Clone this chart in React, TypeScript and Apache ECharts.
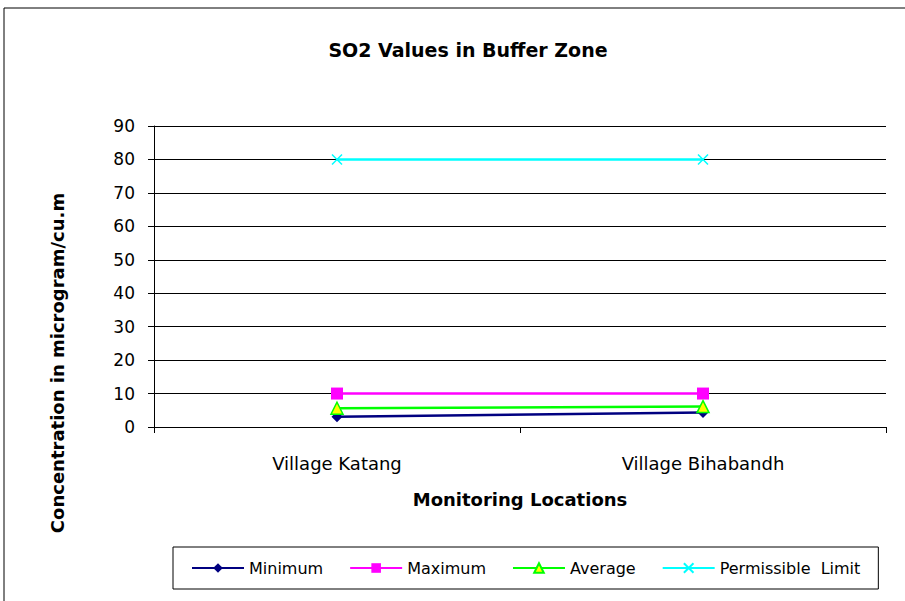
import React, { useEffect, useRef } from "react";
import * as echarts from "echarts";

const categories = ["Village Katang", "Village Bihabandh"];
const minimum = [3.1, 4.3];
const maximum = [10, 10];
const average = [5.6, 6.1];
const permissible = [80, 80];
const yTicks = { min: 0, max: 90, interval: 10 };

const FONT = "DejaVu Sans";

export default function App() {
  const ref = useRef<HTMLDivElement>(null);
  useEffect(() => {
    if (!ref.current) return;
    const chart = echarts.init(ref.current, undefined, { renderer: "svg" });
    chart.setOption({
      animation: false,
      backgroundColor: "#fff",
      title: {
        text: "SO2 Values in Buffer Zone",
        left: 463,
        textAlign: "center",
        top: 35,
        textStyle: { fontFamily: FONT, fontSize: 19, fontWeight: "bold", color: "#000" },
      },
      graphic: [
        {
          type: "rect",
          shape: { x: 4, y: 8, width: 920, height: 620 },
          style: { fill: "none", stroke: "#000", lineWidth: 1 },
          z: -1,
        },
        {
          type: "text",
          x: 57,
          y: 363,
          rotation: Math.PI / 2,
          style: {
            text: "Concentration in microgram/cu.m",
            align: "center",
            verticalAlign: "middle",
            font: `bold 18px "${FONT}"`,
            fill: "#000",
          },
        },
      ],
      grid: { left: 154, right: 19, top: 126, bottom: 174, containLabel: false },
      legend: {
        left: 173,
        top: 547,
        width: 707,
        padding: [13, 18, 13, 18],
        borderColor: "#000",
        borderWidth: 1,
        itemWidth: 52,
        itemHeight: 12,
        itemGap: 26,
        textStyle: { fontFamily: FONT, fontSize: 16, color: "#000" },
        data: ["Minimum", "Maximum", "Average", "Permissible  Limit"],
      },
      xAxis: {
        type: "category",
        data: categories,
        boundaryGap: true,
        name: "Monitoring Locations",
        nameLocation: "middle",
        nameGap: 63,
        nameTextStyle: { fontFamily: FONT, fontSize: 18, fontWeight: "bold", color: "#000" },
        axisLine: { lineStyle: { color: "#000", width: 1 } },
        axisTick: { show: true, length: 6, lineStyle: { color: "#000" } },
        axisLabel: { fontFamily: FONT, fontSize: 18, color: "#000", margin: 27 },
        splitLine: { show: false },
      },
      yAxis: {
        type: "value",
        min: yTicks.min,
        max: yTicks.max,
        interval: yTicks.interval,
        axisLine: { show: true, lineStyle: { color: "#000", width: 1 } },
        axisTick: { show: true, length: 6, lineStyle: { color: "#000" } },
        axisLabel: { fontFamily: FONT, fontSize: 17, color: "#000", margin: 19 },
        splitLine: { show: true, lineStyle: { color: "#000", width: 1 } },
      },
      series: [
        {
          name: "Minimum",
          type: "line",
          data: minimum,
          symbol: "diamond",
          symbolSize: 11,
          lineStyle: { color: "#000080", width: 2.5 },
          itemStyle: { color: "#000080" },
        },
        {
          name: "Maximum",
          type: "line",
          data: maximum,
          symbol: "rect",
          symbolSize: 12,
          lineStyle: { color: "#FF00FF", width: 2.5 },
          itemStyle: { color: "#FF00FF" },
        },
        {
          name: "Average",
          type: "line",
          data: average,
          symbol: "triangle",
          symbolSize: 12,
          lineStyle: { color: "#00FF00", width: 2.5 },
          itemStyle: { color: "#FFFF00", borderColor: "#00FF00", borderWidth: 1.5 },
        },
        {
          name: "Permissible  Limit",
          type: "line",
          data: permissible,
          symbol: "path://M0,0 L10,10 M10,0 L0,10",
          symbolSize: 10,
          lineStyle: { color: "#00FFFF", width: 2.5 },
          itemStyle: { color: "#00FFFF", borderColor: "#00FFFF", borderWidth: 1.5 },
        },
      ],
    });
    return () => chart.dispose();
  }, []);
  return (
    <div
      ref={ref}
      style={{ position: "fixed", left: 0, top: 0, width: 905, height: 601 }}
    />
  );
}
